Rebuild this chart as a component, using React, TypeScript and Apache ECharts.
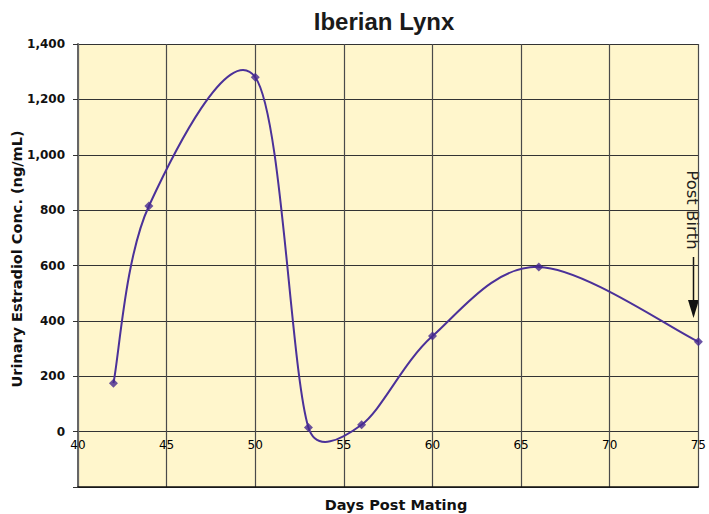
import React, { useEffect, useRef } from "react";
import * as echarts from "echarts";

const titleText = "Iberian Lynx";
const xAxisTitle = "Days Post Mating";
const yAxisTitle = "Urinary Estradiol Conc. (ng/mL)";
const annotationText = "Post Birth";

const days = [42, 44, 50, 53, 56, 60, 66, 75];
const estradiol = [175, 815, 1280, 15, 25, 345, 595, 325];

const xMin = 40;
const xMax = 75;
const xStep = 5;
const yMin = -200;
const yMax = 1400;
const yStep = 200;

// Spreadsheet-style smoothing: Catmull-Rom arms of 1/6, capped at half the segment.
function smoothPath(pts: number[][]): string {
  const n = pts.length;
  if (n === 0) return "";
  let d = `M${pts[0][0]},${pts[0][1]}`;
  for (let i = 0; i < n - 1; i++) {
    const p0 = pts[i > 0 ? i - 1 : i];
    const p1 = pts[i];
    const p2 = pts[i + 1];
    const p3 = pts[i + 2 < n ? i + 2 : i + 1];
    const d12 = Math.hypot(p2[0] - p1[0], p2[1] - p1[1]);
    const v1x = p2[0] - p0[0];
    const v1y = p2[1] - p0[1];
    const l1 = Math.hypot(v1x, v1y) || 1;
    const a1 = Math.min(l1 / 6, d12 / 2);
    const v2x = p3[0] - p1[0];
    const v2y = p3[1] - p1[1];
    const l2 = Math.hypot(v2x, v2y) || 1;
    const a2 = Math.min(l2 / 6, d12 / 2);
    const c1x = p1[0] + (v1x / l1) * a1;
    const c1y = p1[1] + (v1y / l1) * a1;
    const c2x = p2[0] - (v2x / l2) * a2;
    const c2y = p2[1] - (v2y / l2) * a2;
    d += ` C${c1x},${c1y} ${c2x},${c2y} ${p2[0]},${p2[1]}`;
  }
  return d;
}

export default function App() {
  const ref = useRef<HTMLDivElement>(null);

  useEffect(() => {
    document.body.style.margin = "0";
    if (!ref.current) return;
    const chart = echarts.init(ref.current, null, { renderer: "svg" });
    const labelFont = "'DejaVu Sans', sans-serif";
    const points = days.map((d, i) => [d, estradiol[i]]);
    chart.setOption({
      animation: false,
      backgroundColor: "#ffffff",
      title: {
        text: titleText,
        left: 379,
        top: 4,
        textAlign: "center",
        textStyle: {
          fontFamily: "'Liberation Sans', Arial, sans-serif",
          fontSize: 24,
          fontWeight: "bold",
          color: "#1a1a1a",
        },
      },
      grid: {
        left: 78,
        right: 6,
        top: 44,
        bottom: 27,
        show: true,
        backgroundColor: "#FFF6CC",
        borderWidth: 0,
      },
      xAxis: {
        type: "value",
        min: xMin,
        max: xMax,
        interval: xStep,
        axisLine: { show: true, onZero: false, lineStyle: { color: "#111", width: 1.5 } },
        axisTick: { show: false },
        axisLabel: {
          margin: -48,
          fontFamily: labelFont,
          fontSize: 12,
          color: "#000",
        },
        splitLine: { show: true, lineStyle: { color: "#4a4a4a", width: 1.2 } },
      },
      yAxis: {
        type: "value",
        min: yMin,
        max: yMax,
        interval: yStep,
        axisLine: { show: true, lineStyle: { color: "#666", width: 2 } },
        axisTick: { show: true, length: 5, lineStyle: { color: "#333" } },
        axisLabel: {
          margin: 13,
          fontFamily: labelFont,
          fontSize: 12,
          fontWeight: "bold",
          color: "#111",
          formatter: (v: number) => (v < 0 ? "" : v.toLocaleString("en-US")),
        },
        splitLine: { show: true, lineStyle: { color: "#333", width: 1.2 } },
      },
      series: [
        {
          type: "custom",
          data: points,
          clip: true,
          z: 2,
          renderItem: (params: any, api: any) => {
            if (params.dataIndex !== 0) return { type: "group", children: [] };
            const px = points.map((p) => api.coord(p));
            return {
              type: "path",
              shape: { pathData: smoothPath(px) },
              style: { stroke: "#4b3199", lineWidth: 2, fill: "none" },
              silent: true,
            };
          },
        },
        {
          type: "scatter",
          data: points,
          symbol: "diamond",
          symbolSize: 9,
          z: 3,
          itemStyle: { color: "#45288f" },
        },
      ],
      graphic: [
        {
          type: "text",
          x: 17,
          y: 259,
          rotation: Math.PI / 2,
          style: {
            text: yAxisTitle,
            align: "center",
            verticalAlign: "middle",
            fontFamily: labelFont,
            fontSize: 14.5,
            fontWeight: "bold",
            fill: "#111",
          },
        },
        {
          type: "text",
          x: 396,
          y: 505,
          style: {
            text: xAxisTitle,
            align: "center",
            verticalAlign: "middle",
            fontFamily: labelFont,
            fontSize: 14.5,
            fontWeight: "bold",
            fill: "#111",
          },
        },
        {
          type: "text",
          x: 692,
          y: 210,
          rotation: -Math.PI / 2,
          style: {
            text: annotationText,
            align: "center",
            verticalAlign: "middle",
            fontFamily: labelFont,
            fontSize: 16.5,
            fill: "#222",
          },
        },
        {
          type: "line",
          shape: { x1: 693.5, y1: 257, x2: 693.5, y2: 302 },
          style: { stroke: "#111", lineWidth: 1.5 },
        },
        {
          type: "polygon",
          shape: { points: [[688, 300], [699, 300], [693.5, 318]] },
          style: { fill: "#111" },
        },
      ],
    });
    return () => chart.dispose();
  }, []);

  return <div ref={ref} style={{ width: 709, height: 514 }} />;
}
